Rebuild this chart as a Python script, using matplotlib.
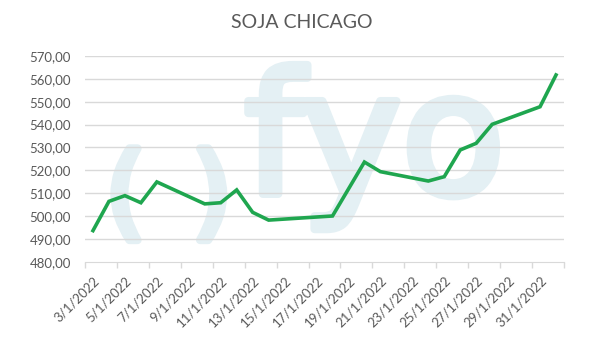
import matplotlib
matplotlib.use("Agg")
import matplotlib.pyplot as plt
import matplotlib.dates as mdates
import matplotlib.patheffects as pe
import numpy as np
from datetime import date, timedelta

# Soja Chicago, cierres de enero 2022 (USD/t)
fechas = ["2022-01-03", "2022-01-04", "2022-01-05", "2022-01-06", "2022-01-07",
          "2022-01-10", "2022-01-11", "2022-01-12", "2022-01-13", "2022-01-14",
          "2022-01-18", "2022-01-20", "2022-01-21",
          "2022-01-24", "2022-01-25", "2022-01-26", "2022-01-27", "2022-01-28",
          "2022-01-31", "2022-02-01"]
precios = [493.6, 506.4, 508.9, 505.8, 514.9,
           505.3, 505.8, 511.4, 501.6, 498.2,
           500.0, 523.6, 519.4,
           515.3, 517.2, 528.9, 531.8, 540.1,
           547.8, 561.7]
y_ticks = [480, 490, 500, 510, 520, 530, 540, 550, 560, 570]

plt.rcParams["font.family"] = ["Lato", "DejaVu Sans"]

x = [mdates.date2num(date.fromisoformat(f)) for f in fechas]
inicio = mdates.date2num(date(2022, 1, 3))
fin = mdates.date2num(date(2022, 2, 1))

fig = plt.figure(figsize=(5.89, 3.41), dpi=100)
ax = fig.add_axes([85 / 589, 1 - 261.7 / 341, 479 / 589, 205.7 / 341])

gris = "#595959"
grilla = "#d9d9d9"

# marca de agua
wm = "#e4f0f4"
grueso = [pe.withStroke(linewidth=6, foreground=wm, capstyle="round")]
ax.text(0.605, 0.33, "fyo", transform=ax.transAxes, fontsize=122,
        color=wm, ha="center", va="baseline", family="DejaVu Sans", zorder=0,
        path_effects=grueso)
ax.text(0.085, 0.31, "(", transform=ax.transAxes, fontsize=74,
        color=wm, ha="center", va="center", family="DejaVu Sans", zorder=0,
        path_effects=grueso)
ax.text(0.265, 0.31, ")", transform=ax.transAxes, fontsize=74,
        color=wm, ha="center", va="center", family="DejaVu Sans", zorder=0,
        path_effects=grueso)

for v in y_ticks[1:]:
    ax.axhline(v, color=grilla, lw=1, zorder=1)

ax.plot(x, precios, color="#1fa64f", lw=2.6, solid_joinstyle="miter", zorder=3)

ax.set_xlim(inicio - 0.5, fin + 0.5)
ax.set_ylim(480, 570)
ax.set_yticks(y_ticks)
ax.set_yticklabels([f"{v:.2f}".replace(".", ",") for v in y_ticks])

# marcas del eje cada 2 dias, etiquetas en la fecha
ax.set_xticks(np.arange(inicio - 0.5, fin + 1, 2))
ax.set_xticklabels([])
etiquetas = [date(2022, 1, 3) + timedelta(days=2 * i) for i in range(15)]
ax.set_xticks([mdates.date2num(d) for d in etiquetas], minor=True)
ax.set_xticklabels([f"{d.day}/{d.month}/{d.year}" for d in etiquetas], minor=True,
                   rotation=45, ha="right", va="top", rotation_mode="anchor")

ax.tick_params(axis="x", which="major", length=4, color=grilla, width=1)
ax.tick_params(axis="x", which="minor", length=0, pad=9, labelsize=9.5, labelcolor=gris)
ax.tick_params(axis="y", length=0, pad=10, labelsize=9.5, labelcolor=gris)

for s in ["left", "right", "top"]:
    ax.spines[s].set_visible(False)
ax.spines["bottom"].set_color(grilla)
ax.set_facecolor("none")

fig.text(302 / 589, 1 - 23 / 341, "SOJA CHICAGO", ha="center", va="center",
         fontsize=14, color=gris)

fig.savefig("out.png", dpi=100)
